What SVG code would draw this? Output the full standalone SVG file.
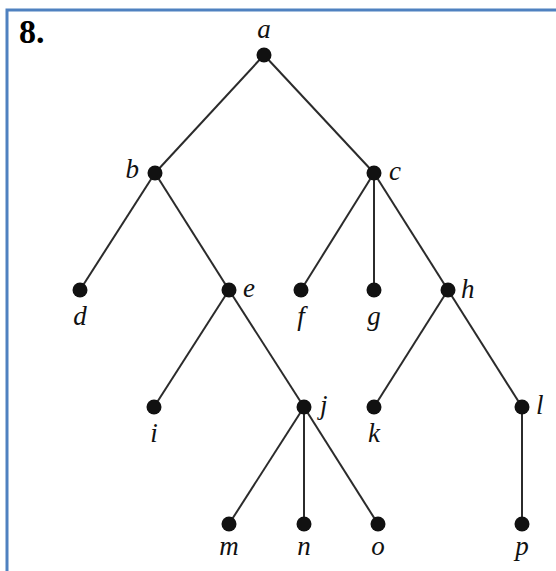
<svg xmlns="http://www.w3.org/2000/svg" width="556" height="571" viewBox="0 0 556 571">
<style>
.edge{stroke:#2b2b2b;stroke-width:2;fill:none}
.dot{fill:#111}
.lbl{font-family:"Liberation Serif","Times New Roman",serif;font-style:italic;font-size:27px;fill:#111}
.num{font-family:"Liberation Serif","Times New Roman",serif;font-weight:bold;font-size:34px;fill:#000}
</style>
<rect width="556" height="571" fill="#fff"/>
<path d="M7,571 V10 H556" stroke="#4f81c0" stroke-width="3" fill="none"/>
<text class="num" x="19" y="43">8.</text>
<g id="connectors">
<line class="edge" x1="264" y1="55" x2="155" y2="173"/>
<line class="edge" x1="264" y1="55" x2="374" y2="173"/>
<line class="edge" x1="155" y1="173" x2="80" y2="290"/>
<line class="edge" x1="155" y1="173" x2="229" y2="290"/>
<line class="edge" x1="374" y1="173" x2="301" y2="290"/>
<line class="edge" x1="374" y1="173" x2="374" y2="290"/>
<line class="edge" x1="374" y1="173" x2="448" y2="290"/>
<line class="edge" x1="229" y1="290" x2="154" y2="407"/>
<line class="edge" x1="229" y1="290" x2="304" y2="407"/>
<line class="edge" x1="448" y1="290" x2="374" y2="407"/>
<line class="edge" x1="448" y1="290" x2="522" y2="407"/>
<line class="edge" x1="304" y1="407" x2="229" y2="524"/>
<line class="edge" x1="304" y1="407" x2="304" y2="524"/>
<line class="edge" x1="304" y1="407" x2="378" y2="524"/>
<line class="edge" x1="522" y1="407" x2="522" y2="524"/>
</g>
<g id="node-a"><circle class="dot" cx="264" cy="55" r="7.5"/><text class="lbl" x="264" y="38" text-anchor="middle">a</text></g>
<g id="node-b"><circle class="dot" cx="155" cy="173" r="7.5"/><text class="lbl" x="139" y="178" text-anchor="end">b</text></g>
<g id="node-c"><circle class="dot" cx="374" cy="173" r="7.5"/><text class="lbl" x="389" y="180">c</text></g>
<g id="node-d"><circle class="dot" cx="80" cy="290" r="7.5"/><text class="lbl" x="80" y="325" text-anchor="middle">d</text></g>
<g id="node-e"><circle class="dot" cx="229" cy="290" r="7.5"/><text class="lbl" x="243" y="297">e</text></g>
<g id="node-f"><circle class="dot" cx="301" cy="290" r="7.5"/><text class="lbl" x="301" y="325" text-anchor="middle">f</text></g>
<g id="node-g"><circle class="dot" cx="374" cy="290" r="7.5"/><text class="lbl" x="374" y="325" text-anchor="middle">g</text></g>
<g id="node-h"><circle class="dot" cx="448" cy="290" r="7.5"/><text class="lbl" x="461" y="298">h</text></g>
<g id="node-i"><circle class="dot" cx="154" cy="407" r="7.5"/><text class="lbl" x="154" y="442" text-anchor="middle">i</text></g>
<g id="node-j"><circle class="dot" cx="304" cy="407" r="7.5"/><text class="lbl" x="320" y="414">j</text></g>
<g id="node-k"><circle class="dot" cx="374" cy="407" r="7.5"/><text class="lbl" x="374" y="442" text-anchor="middle">k</text></g>
<g id="node-l"><circle class="dot" cx="522" cy="407" r="7.5"/><text class="lbl" x="536" y="414">l</text></g>
<g id="node-m"><circle class="dot" cx="229" cy="524" r="7.5"/><text class="lbl" x="229" y="555" text-anchor="middle">m</text></g>
<g id="node-n"><circle class="dot" cx="304" cy="524" r="7.5"/><text class="lbl" x="304" y="555" text-anchor="middle">n</text></g>
<g id="node-o"><circle class="dot" cx="378" cy="524" r="7.5"/><text class="lbl" x="378" y="555" text-anchor="middle">o</text></g>
<g id="node-p"><circle class="dot" cx="522" cy="524" r="7.5"/><text class="lbl" x="522" y="555" text-anchor="middle">p</text></g>
</svg>
